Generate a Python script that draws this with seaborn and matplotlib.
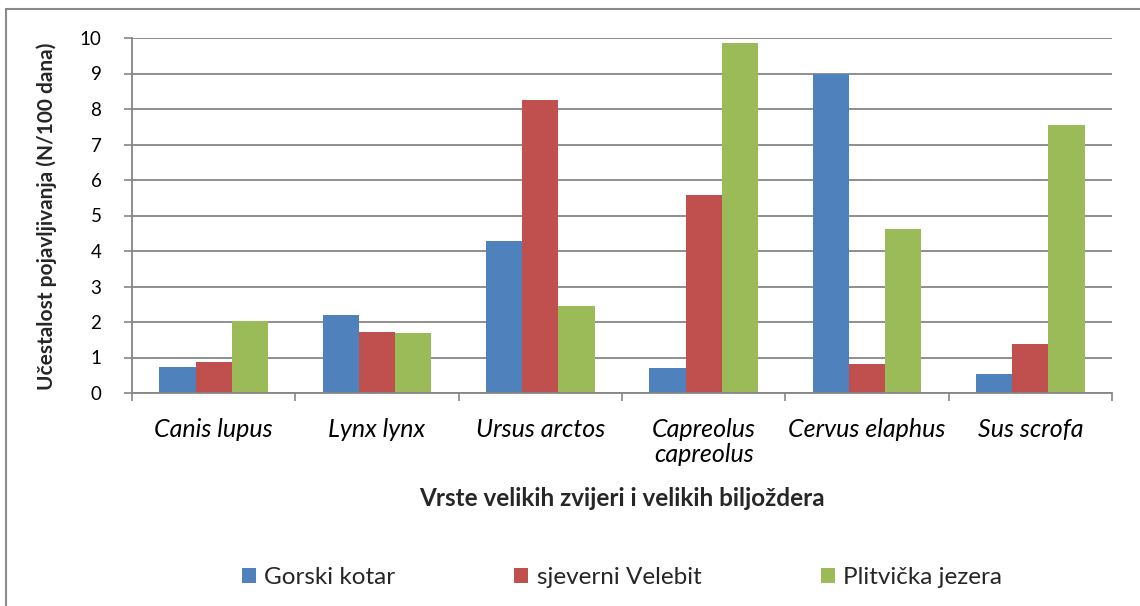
import matplotlib
matplotlib.use("Agg")
import matplotlib.pyplot as plt
from matplotlib.lines import Line2D
import seaborn as sns
import pandas as pd

# Species (x categories) and the three study areas (series)
species = ["Canis lupus", "Lynx lynx", "Ursus arctos",
           "Capreolus\ncapreolus", "Cervus elaphus", "Sus scrofa"]
areas = ["Gorski kotar", "sjeverni Velebit", "Plitvička jezera"]

gorski_kotar = [0.73, 2.20, 4.27, 0.71, 8.99, 0.54]
sjeverni_velebit = [0.88, 1.71, 8.24, 5.59, 0.82, 1.39]
plitvicka_jezera = [2.02, 1.69, 2.44, 9.86, 4.63, 7.56]

yticks = list(range(0, 11))
colors = ["#4F81BD", "#C0504D", "#9BBB59"]

df = pd.DataFrame({
    "species": species * 3,
    "area": [a for a in areas for _ in species],
    "value": gorski_kotar + sjeverni_velebit + plitvicka_jezera,
})

sns.set_theme(style="white")
font = "Lato"
plt.rcParams["font.family"] = [font, "DejaVu Sans"]

fig = plt.figure(figsize=(11.4, 6.06), dpi=100)
W, H = 1140, 606
ax = fig.add_axes([132 / W, 1 - 393 / H, 980 / W, 355 / H])

sns.barplot(data=df, x="species", y="value", hue="area", order=species,
            hue_order=areas, palette=colors, width=0.667, saturation=1,
            linewidth=0, ax=ax, legend=True)

grid_c = "#868686"
ax.set_ylim(0, 10)
ax.set_xlim(-0.5, len(species) - 0.5)
ax.set_yticks(yticks)
ax.set_yticklabels([str(t) for t in yticks], fontsize=13.5)
ax.yaxis.grid(True, color=grid_c, linewidth=1.3)
ax.set_axisbelow(True)
for s in ["top", "right"]:
    ax.spines[s].set_visible(False)
for s in ["left", "bottom"]:
    ax.spines[s].set_color(grid_c)
    ax.spines[s].set_linewidth(1.3)

ax.tick_params(axis="y", which="major", left=True, length=6, width=1.2,
               color=grid_c, pad=16, labelcolor="black")
# category labels sit between boundary tick marks
ax.set_xticks(range(len(species)))
ax.set_xticklabels(species, fontsize=18, style="italic", va="top",
                   linespacing=1.1)
ax.set_xticks([i - 0.5 for i in range(len(species) + 1)], minor=True)
ax.tick_params(axis="x", which="major", length=0, pad=18, labelcolor="black")
ax.tick_params(axis="x", which="minor", bottom=True, length=6, width=1.2,
               color=grid_c)

ax.set_xlabel("Vrste velikih zvijeri i velikih biljoždera", fontsize=17.5,
              fontweight="bold")
ax.set_ylabel("Učestalost pojavljivanja (N/100 dana)", fontsize=15,
              fontweight="bold")
ax.xaxis.label.set_va("center")
ax.yaxis.label.set_va("center")
ax.xaxis.set_label_coords(0.5, -(498 - 393) / 355)
ax.yaxis.set_label_coords(-(132 - 47) / 980, (393 - 216) / 355)

handles, labels = ax.get_legend_handles_labels()
ax.legend(handles, labels, loc="center", bbox_to_anchor=(0.5, -(578 - 393) / 355),
          ncol=3, frameon=False, fontsize=17.5, handlelength=0.58,
          handleheight=0.58, handletextpad=0.35, columnspacing=4.9)

# outer chart frame
fig.add_artist(Line2D([6 / W, 1], [1 - 9 / H, 1 - 9 / H], color="#8a8a8a",
                      linewidth=1.5, transform=fig.transFigure))
fig.add_artist(Line2D([6 / W, 6 / W], [0, 1 - 9 / H], color="#8a8a8a",
                      linewidth=1.5, transform=fig.transFigure))

fig.savefig("out.png", dpi=100)
